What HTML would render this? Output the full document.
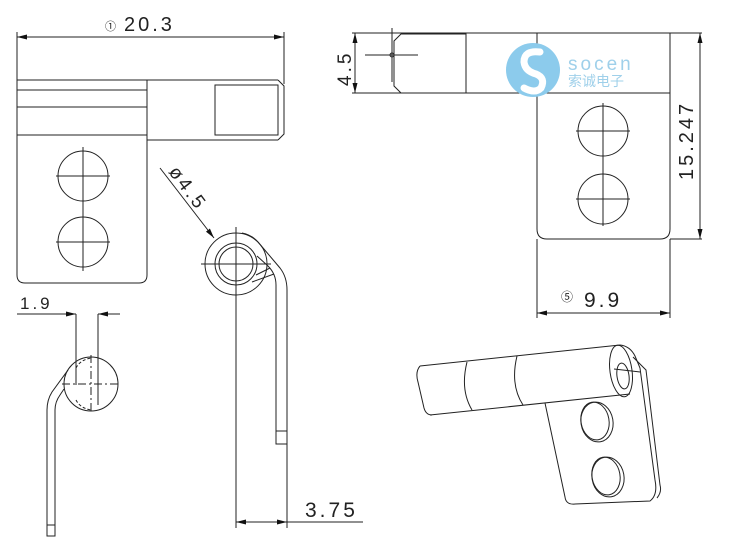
<!DOCTYPE html>
<html><head><meta charset="utf-8"><style>
html,body{margin:0;padding:0;background:#fff;}
svg{display:block;}
text{font-family:"Liberation Sans","Noto Sans CJK SC",sans-serif;fill:#222;}
.d{letter-spacing:3px;}
</style></head><body>
<svg width="750" height="550" viewBox="0 0 750 550" xmlns="http://www.w3.org/2000/svg">
<defs>
<marker id="ar" viewBox="0 0 10 6" refX="10" refY="3" markerWidth="10" markerHeight="6" orient="auto-start-reverse" markerUnits="userSpaceOnUse"><path d="M0,0.5 L10,3 L0,5.5z" fill="#111"/></marker>
</defs>
<g fill="none" stroke="#222" stroke-width="1">
<line x1="17" y1="37" x2="284" y2="37" marker-start="url(#ar)" marker-end="url(#ar)"/>
<line x1="17" y1="32" x2="17" y2="275"/>
<line x1="284" y1="32" x2="284" y2="84"/>
<line x1="17" y1="80" x2="278" y2="80"/>
<line x1="17" y1="90" x2="147" y2="90"/>
<line x1="17" y1="107" x2="147" y2="107"/>
<line x1="17" y1="135" x2="147" y2="135"/>
<line x1="147" y1="80" x2="147" y2="275"/>
<line x1="147" y1="140" x2="278" y2="140"/>
<path d="M278,80 L284,86 L284,134 L278,140"/>
<rect x="215" y="85" width="63" height="50"/>
<path d="M17,275 Q17,283 25,283 L139,283 Q147,283 147,275"/>
<circle cx="83" cy="176" r="25"/><circle cx="83" cy="242" r="25"/>
<line x1="56" y1="176" x2="110" y2="176"/><line x1="56" y1="242" x2="110" y2="242"/>
<line x1="83" y1="147" x2="83" y2="271"/>
<line x1="160" y1="168" x2="214" y2="238" marker-end="url(#ar)"/>
<circle cx="236" cy="264" r="31"/>
<circle cx="236" cy="264" r="21"/>
<circle cx="236" cy="264" r="17"/>
<line x1="201" y1="264" x2="271" y2="264"/>
<line x1="236" y1="227" x2="236" y2="300"/>
<path d="M242,233 Q252,235 258,242 L280,268 Q287,277 287,290 L287,444"/>
<path d="M257,256 L268,266 Q276,274 276,285 L276,444"/>
<line x1="256" y1="275" x2="270" y2="268"/><line x1="252" y1="282" x2="274" y2="274"/>
<rect x="276" y="431" width="11" height="13"/>
<line x1="236" y1="296" x2="236" y2="528"/>
<line x1="287" y1="444" x2="287" y2="528"/>
<line x1="236" y1="522" x2="287" y2="522" marker-start="url(#ar)" marker-end="url(#ar)"/>
<line x1="287" y1="522" x2="363" y2="522"/>
<line x1="17" y1="314" x2="76" y2="314" marker-end="url(#ar)"/>
<line x1="120" y1="314" x2="98" y2="314" marker-end="url(#ar)"/>
<line x1="76" y1="314" x2="76" y2="385"/>
<line x1="98" y1="314" x2="98" y2="405"/>
<circle cx="91" cy="384" r="27"/>
<path d="M76,368 Q80,360 91,358 M76,400 Q80,408 91,410" stroke-dasharray="3,2"/>
<line x1="62" y1="384" x2="121" y2="384" stroke-dasharray="8,3,2,3"/>
<line x1="91" y1="355" x2="91" y2="414" stroke-dasharray="8,3,2,3"/>
<path d="M68,370 L52,392 Q47,400 47,410 L47,536 L55,536 L55,410 Q55,402 60,395 L64,389"/>
<line x1="47" y1="525" x2="55" y2="525"/>
<line x1="355" y1="33" x2="355" y2="93" marker-start="url(#ar)" marker-end="url(#ar)"/>
<line x1="352" y1="33" x2="702" y2="33"/>
<line x1="352" y1="93" x2="670" y2="93"/>
<path d="M401,34 L466,34 L466,93 L401,93 L394,86 L394,41 Z"/>
<line x1="365" y1="55" x2="418" y2="55"/>
<line x1="392" y1="28" x2="392" y2="82"/>
<circle cx="392" cy="55" r="2"/>
<path d="M537,33 L537,229 Q537,239 547,239 L660,239 Q670,239 670,229 L670,33"/>
<circle cx="603" cy="131" r="25"/><circle cx="603" cy="199" r="25"/>
<line x1="576" y1="131" x2="630" y2="131"/><line x1="576" y1="199" x2="630" y2="199"/>
<line x1="603" y1="103" x2="603" y2="226"/>
<line x1="700" y1="33" x2="700" y2="239" marker-start="url(#ar)" marker-end="url(#ar)"/>
<line x1="670" y1="239" x2="702" y2="239"/>
<line x1="537" y1="239" x2="537" y2="318"/>
<line x1="670" y1="239" x2="670" y2="318"/>
<line x1="537" y1="313" x2="670" y2="313" marker-start="url(#ar)" marker-end="url(#ar)"/>
<path d="M420,366 L620,345"/>
<path d="M430,415 L630,394"/>
<path d="M420,366 Q415,372 418,382 L424,408 Q426,415 432,415"/>
<path d="M467,362 Q460,390 472,410"/>
<path d="M517,356 Q510,385 523,405"/>
<ellipse cx="621" cy="371" rx="11" ry="26" transform="rotate(-8 621 371)"/>
<ellipse cx="623" cy="376" rx="6" ry="13" transform="rotate(-8 623 376)"/>
<path d="M620,345 Q630,346 635,356 L640,368 L655,480 Q658,495 650,501 L575,504 Q566,505 565,497 L545,403"/>
<path d="M633,357 L646,370 L660,485 Q662,492 657,498"/>
<line x1="614" y1="369" x2="640" y2="372"/>
<ellipse cx="597" cy="422" rx="16" ry="20" transform="rotate(-10 597 422)"/>
<ellipse cx="595" cy="421" rx="14" ry="19" transform="rotate(-10 595 421)"/>
<ellipse cx="608" cy="477" rx="16" ry="20" transform="rotate(-10 608 477)"/>
<ellipse cx="606" cy="476" rx="14" ry="19" transform="rotate(-10 606 476)"/>
</g>
<circle cx="533" cy="70" r="27" fill="#8ccbec"/>
<path d="M540,52 Q524,50 524,62 Q525,71 536,74 Q546,78 541,88 Q535,94 524,88" fill="none" stroke="#fff" stroke-width="7" stroke-linecap="round"/>
<text x="568" y="70" font-size="19" style="fill:#9fd0ea;letter-spacing:3px">socen</text>
<text x="568" y="86" font-size="14" style="fill:#9fd0ea">索诚电子</text>
<text x="105" y="30" font-size="11">①</text>
<text x="124" y="31" font-size="20" class="d">20.3</text>
<text x="0" y="0" font-size="19" class="d" transform="translate(168,172) rotate(53)">ø4.5</text>
<text x="20" y="309" font-size="17" class="d">1.9</text>
<text x="305" y="517" font-size="21" class="d">3.75</text>
<text x="0" y="0" font-size="19" class="d" transform="translate(351,86) rotate(-90)">4.5</text>
<text x="0" y="0" font-size="20" class="d" transform="translate(693,180) rotate(-90)">15.247</text>
<text x="561" y="301" font-size="12">⑤</text>
<text x="584" y="307" font-size="21" class="d">9.9</text>
</svg>
</body></html>
